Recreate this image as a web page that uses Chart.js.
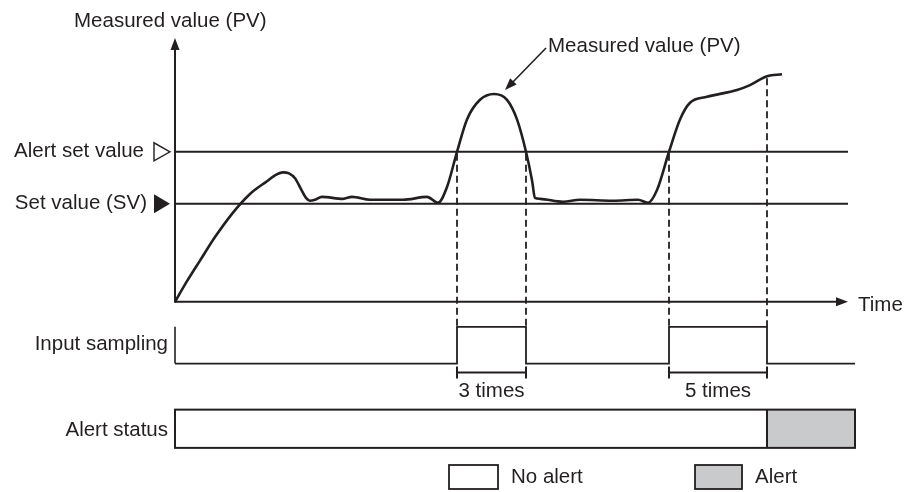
<!DOCTYPE html>
<html>
<head>
<meta charset="utf-8">
<script src="https://cdn.jsdelivr.net/npm/chart.js@4.4.1/dist/chart.umd.min.js"></script>
<style>
  html, body { margin: 0; padding: 0; background: #fff; }
</style>
</head>
<body>
<canvas id="myChart" width="908" height="492"></canvas>
<script>
//----DATA----
// time runs 0..673 along the axis, PV in the same units as SV (=100)
const pvTime  = [0, 12, 25, 40, 58, 75, 92, 100, 108, 114, 120, 126, 131, 135, 140, 147, 168, 177, 195, 228, 252, 263, 272, 282, 292, 305, 319, 332, 342, 351, 357, 360, 365, 388, 405, 438, 463, 473, 482, 494, 505, 515, 532, 562, 575, 592, 607];
const pvValue = [0, 21, 42, 66, 91, 110, 123, 129, 132, 131, 126, 115, 106, 103, 104, 107, 105, 107, 104, 104, 107, 101, 117, 153, 186, 206, 212, 206, 186, 153, 124, 106, 105, 102, 104, 103, 104, 101, 114, 153, 186, 203, 209, 216, 221, 230, 232];

const setValue = 100;        // SV
const alertSetValue = 153;   // alert set value
const timeEnd = 673;

const sampleStart = [282, 494];
const sampleEnd   = [351, 592];
const sampleLabels = ['3 times', '5 times'];

const statusStart = [0, 592];
const statusEnd   = [592, 680];
const statusAlert = [false, true];

const legendLabels = ['No alert', 'Alert'];

//----STYLE----
const ink = '#231f20';
const grey = '#c9cacb';
const FONT = '20.5px "Liberation Sans", Arial, sans-serif';

// lanes below the time axis, in the same y units
const lane = { sampLow: -63, sampHigh: -25.5, bracket: -72, label: -97, barTop: -110, barBottom: -149 };

// sampling signal as one polyline
const sampPts = [{x: 0, y: lane.sampLow}];
sampleStart.forEach((s, i) => {
  sampPts.push({x: s, y: lane.sampLow}, {x: s, y: lane.sampHigh},
               {x: sampleEnd[i], y: lane.sampHigh}, {x: sampleEnd[i], y: lane.sampLow});
});
sampPts.push({x: statusEnd[statusEnd.length - 1], y: lane.sampLow});

const data = {
  datasets: [
    {
      label: 'Measured value (PV)',
      data: pvTime.map((t, i) => ({x: t, y: pvValue[i]})),
      borderColor: ink, borderWidth: 2.6,
      cubicInterpolationMode: 'monotone', pointRadius: 0
    },
    {
      label: 'Alert set value',
      data: [{x: 0, y: alertSetValue}, {x: timeEnd, y: alertSetValue}],
      borderColor: ink, borderWidth: 2, pointRadius: 0
    },
    {
      label: 'Set value (SV)',
      data: [{x: 0, y: setValue}, {x: timeEnd, y: setValue}],
      borderColor: ink, borderWidth: 2, pointRadius: 0
    },
    {
      label: 'Input sampling',
      data: sampPts,
      borderColor: ink, borderWidth: 1.8, pointRadius: 0, tension: 0
    }
  ]
};

//----PLUGINS----
const decor = {
  id: 'decor',
  afterDatasetsDraw(chart) {
    const { ctx, chartArea: { top }, scales: { x, y } } = chart;
    const X = v => x.getPixelForValue(v);
    const Y = v => y.getPixelForValue(v);
    const line = (x1, y1, x2, y2) => { ctx.beginPath(); ctx.moveTo(x1, y1); ctx.lineTo(x2, y2); ctx.stroke(); };
    const tri = (pts, fill) => {
      ctx.beginPath(); ctx.moveTo(pts[0][0], pts[0][1]);
      pts.slice(1).forEach(p => ctx.lineTo(p[0], p[1]));
      ctx.closePath();
      if (fill) ctx.fill(); else ctx.stroke();
    };
    ctx.save();
    ctx.strokeStyle = ink; ctx.fillStyle = ink;
    ctx.lineCap = 'butt';

    const x0 = X(0), y0 = Y(0), xEnd = X(timeEnd);

    // axes
    ctx.lineWidth = 2;
    line(x0, y0 + 1, x0, top + 8);
    tri([[x0, top - 2], [x0 - 4.5, top + 10], [x0 + 4.5, top + 10]], true);
    line(x0, y0, xEnd - 10, y0);
    tri([[xEnd, y0], [xEnd - 12, y0 - 4.5], [xEnd - 12, y0 + 4.5]], true);

    // markers on the y axis
    ctx.lineWidth = 1.4;
    const ya = Y(alertSetValue), ys = Y(setValue);
    tri([[x0 - 5, ya], [x0 - 21, ya - 9], [x0 - 21, ya + 9]], false);
    tri([[x0 - 5, ys], [x0 - 21, ys - 9.5], [x0 - 21, ys + 9.5]], true);

    // dashed guides
    ctx.lineWidth = 1.8;
    ctx.setLineDash([7, 4]);
    const marks = [...sampleStart, ...sampleEnd];
    marks.forEach(t => {
      const k = pvTime.indexOf(t);
      line(X(t), Y(pvValue[k]) + 2, X(t), Y(lane.sampHigh));
    });
    ctx.setLineDash([]);

    // sampling lane: left edge + brackets
    ctx.lineWidth = 1.6;
    line(x0, Y(lane.sampHigh), x0, Y(lane.sampLow));
    ctx.lineWidth = 2;
    const yb = Y(lane.bracket);
    sampleStart.forEach((s, i) => {
      const a = X(s), b = X(sampleEnd[i]);
      line(a, yb, b, yb);
      line(a, yb - 6, a, yb + 6);
      line(b, yb - 6, b, yb + 6);
    });

    // alert status bar
    const bt = Y(lane.barTop), bb = Y(lane.barBottom);
    statusStart.forEach((s, i) => {
      ctx.fillStyle = statusAlert[i] ? grey : '#fff';
      ctx.fillRect(X(s), bt, X(statusEnd[i]) - X(s), bb - bt);
    });
    ctx.lineWidth = 2;
    ctx.strokeRect(X(0), bt, X(statusEnd[statusEnd.length - 1]) - X(0), bb - bt);
    statusStart.slice(1).forEach(s => line(X(s), bt, X(s), bb));

    // callout arrow to the curve
    const tipX = X(330), tipY = Y(216);
    ctx.lineWidth = 1.6;
    line(tipX + 5, tipY - 5, tipX + 41, tipY - 42);
    ctx.fillStyle = ink;
    const ang = Math.atan2(-37, 36);
    const L = 12, W = 4.5;
    const bx = tipX + Math.cos(ang) * L, by = tipY + Math.sin(ang) * L;
    tri([[tipX, tipY], [bx - Math.sin(ang) * W, by + Math.cos(ang) * W], [bx + Math.sin(ang) * W, by - Math.cos(ang) * W]], true);

    // texts
    ctx.font = FONT;
    ctx.fillStyle = ink;
    ctx.textBaseline = 'alphabetic';
    ctx.textAlign = 'left';
    ctx.fillText('Measured value (PV)', 74, 27);
    ctx.fillText('Measured value (PV)', tipX + 43, tipY - 38);
    ctx.fillText('Time', xEnd + 10, y0 + 9);
    ctx.textAlign = 'right';
    ctx.fillText('Alert set value', 144, ya + 5);
    ctx.fillText('Set value (SV)', 147, ys + 5);
    ctx.fillText('Input sampling', 168, Y(lane.sampLow) - 14);
    ctx.fillText('Alert status', 168, (bt + bb) / 2 + 7);
    ctx.textAlign = 'center';
    sampleStart.forEach((s, i) => {
      ctx.fillText(sampleLabels[i], X((s + sampleEnd[i]) / 2), Y(lane.label));
    });

    // legend
    const boxes = [[449, 695], [498, 742]];
    legendLabels.forEach((lab, i) => {
      const bx0 = boxes[0][i], bx1 = boxes[1][i];
      ctx.fillStyle = i === 1 ? grey : '#fff';
      ctx.fillRect(bx0, 465, bx1 - bx0, 24);
      ctx.lineWidth = 1.8;
      ctx.strokeRect(bx0, 465, bx1 - bx0, 24);
      ctx.fillStyle = ink;
      ctx.textAlign = 'left';
      ctx.fillText(lab, bx1 + 13, 483);
    });
    ctx.restore();
  }
};

//----CONFIG----
const config = {
  type: 'line',
  data,
  options: {
    responsive: false,
    animation: false,
    events: [],
    layout: { padding: { left: 175, right: 60, top: 40, bottom: 0 } },
    elements: { line: { borderCapStyle: 'butt', fill: false } },
    datasets: { line: { clip: false } },
    scales: {
      x: { type: 'linear', display: false, min: 0, max: timeEnd },
      y: { type: 'linear', display: false, min: -194, max: 267 }
    },
    plugins: { legend: { display: false }, tooltip: { enabled: false } }
  },
  plugins: [decor]
};

const myChart = new Chart(document.getElementById('myChart'), config);
</script>
</body>
</html>
